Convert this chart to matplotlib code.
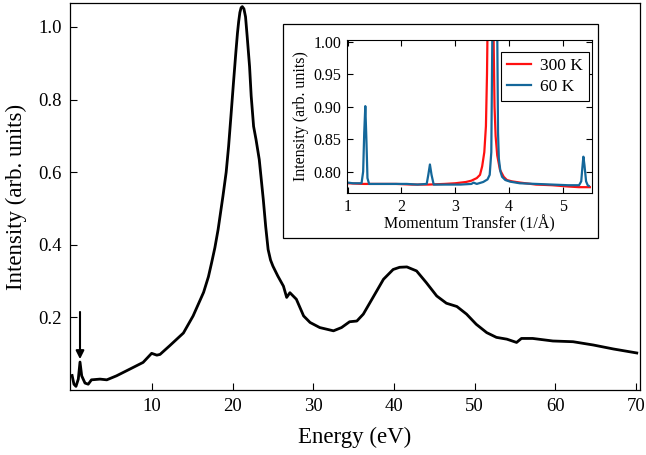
import matplotlib
matplotlib.use("Agg")
import matplotlib.pyplot as plt
from matplotlib.patches import Rectangle

plt.rcParams['font.family'] = ['Liberation Serif', 'DejaVu Serif']

# Main spectrum
energy = [0.1, 0.33, 0.58, 0.87, 1.08, 1.29, 1.7, 2.1, 2.5, 3.56, 4.4, 5.6, 7.3, 8.9,
          9.96, 10.6, 11.0, 12.2, 13.9, 15.1, 16.4, 17.0, 17.4, 17.8, 18.2, 18.8, 19.2,
          19.5, 19.8, 20.1, 20.4, 20.6, 20.75, 20.9, 21.05, 21.2, 21.4, 21.6, 21.8, 22.1,
          22.3, 22.6, 22.9, 23.3, 23.8, 24.1, 24.4, 24.7, 25.0, 25.6, 26.3, 26.7, 27.1,
          27.9, 28.8, 29.6, 30.8, 32.5, 33.5, 34.5, 35.4, 36.2, 37.4, 38.7, 39.9, 40.7,
          41.6, 42.8, 44.0, 45.3, 46.5, 47.8, 49.0, 50.2, 51.5, 52.7, 54.0, 55.2, 55.8,
          57.2, 59.7, 62.2, 64.7, 67.2, 70.1]
intensity = [0.040, 0.016, 0.010, 0.030, 0.077, 0.039, 0.019, 0.016, 0.028, 0.030, 0.028,
             0.039, 0.058, 0.076, 0.101, 0.096, 0.098, 0.122, 0.157, 0.204, 0.269, 0.312,
             0.351, 0.392, 0.442, 0.534, 0.600, 0.671, 0.757, 0.845, 0.930, 0.983, 1.015,
             1.040, 1.053, 1.056, 1.050, 1.028, 0.975, 0.891, 0.810, 0.726, 0.690, 0.635,
             0.525, 0.450, 0.387, 0.358, 0.341, 0.314, 0.286, 0.255, 0.268, 0.250, 0.204,
             0.186, 0.172, 0.163, 0.172, 0.188, 0.190, 0.209, 0.255, 0.305, 0.332, 0.338,
             0.339, 0.328, 0.296, 0.259, 0.239, 0.230, 0.209, 0.181, 0.158, 0.145, 0.140,
             0.131, 0.142, 0.142, 0.135, 0.133, 0.124, 0.113, 0.102]
arrow_energy = 1.08
arrow_from, arrow_to = 0.215, 0.085

main_xticks = [10, 20, 30, 40, 50, 60, 70]
main_yticks = [0.2, 0.4, 0.6, 0.8, 1.0]

# Inset diffraction
q_300 = [1.01, 1.30, 1.60, 1.90, 2.20, 2.50, 2.80, 3.00, 3.20, 3.30, 3.40, 3.46, 3.50, 3.54,
         3.57, 3.59, 3.60, 3.655, 3.71, 3.73, 3.75, 3.78, 3.83, 3.90, 3.96, 4.05, 4.21, 4.50,
         4.80, 5.10, 5.30, 5.50]
i_300 = [0.782, 0.781, 0.781, 0.781, 0.780, 0.780, 0.781, 0.782, 0.784, 0.786, 0.790, 0.795,
         0.808, 0.830, 0.870, 0.950, 1.020, 1.150, 1.020, 0.900, 0.855, 0.825, 0.803, 0.792,
         0.787, 0.785, 0.783, 0.780, 0.779, 0.777, 0.776, 0.776]
q_60 = [1.01, 1.10, 1.20, 1.26, 1.29, 1.31, 1.33, 1.35, 1.37, 1.40, 1.50, 1.70, 1.90, 2.10,
        2.30, 2.47, 2.50, 2.53, 2.56, 2.60, 2.70, 2.90, 3.10, 3.30, 3.34, 3.40, 3.52, 3.60,
        3.64, 3.67, 3.69, 3.735, 3.78, 3.795, 3.81, 3.84, 3.87, 3.93, 4.02, 4.20, 4.50, 4.80,
        5.10, 5.30, 5.34, 5.36, 5.38, 5.40, 5.43, 5.46, 5.48]
i_60 = [0.783, 0.782, 0.782, 0.782, 0.800, 0.860, 0.901, 0.850, 0.790, 0.781, 0.781, 0.781,
        0.781, 0.781, 0.780, 0.781, 0.795, 0.811, 0.795, 0.780, 0.780, 0.780, 0.780, 0.781,
        0.783, 0.781, 0.784, 0.788, 0.795, 0.830, 1.020, 1.100, 1.020, 0.860, 0.820, 0.800,
        0.792, 0.787, 0.7845, 0.782, 0.781, 0.780, 0.779, 0.779, 0.785, 0.805, 0.823, 0.810,
        0.785, 0.779, 0.778]
inset_xticks = [1, 2, 3, 4, 5]
inset_yticks = [0.80, 0.85, 0.90, 0.95, 1.00]
labels = ['300 K', '60 K']
colors = ['#ff1010', '#14679a']

fig = plt.figure(figsize=(6.46, 4.55), dpi=100)
ax = fig.add_axes([70/646, 1-390/455, 570/646, 387/455])
ax.plot(energy, intensity, color='black', lw=2.0, zorder=3, solid_joinstyle='round')
ax.annotate('', xy=(arrow_energy, arrow_to), xytext=(arrow_energy, arrow_from),
            arrowprops=dict(arrowstyle='-|>', color='black', lw=1.5, mutation_scale=12,
                            shrinkA=0, shrinkB=0))
ax.set_xlim(-0.16, 70.5)
ax.set_ylim(0, 1.066)
ax.set_xticks(main_xticks)
ax.set_yticks(main_yticks)
ax.set_yticklabels([f'{v:.1f}' for v in main_yticks])
ax.tick_params(direction='in', length=5, width=0.8, labelsize=13.5, pad=6,
               top=False, right=False)
ax.set_xlabel('Energy (eV)', fontsize=16.5, labelpad=8)
ax.set_ylabel('Intensity (arb. units)', fontsize=16.5, labelpad=8)
for s in ax.spines.values():
    s.set_linewidth(0.9)

# Inset frame
fig.patches.append(Rectangle((283/646, 1-238/455), (598-283)/646, (238-24)/455,
                             transform=fig.transFigure, facecolor='white',
                             edgecolor='black', lw=0.9, zorder=1))

axi = fig.add_axes([347/646, 1-193/455, 245/646, 153/455], zorder=2)
axi.plot(q_300, i_300, color=colors[0], lw=1.6, label=labels[0])
axi.plot(q_60, i_60, color=colors[1], lw=1.6, label=labels[1])
axi.set_xlim(0.99, 5.54)
axi.set_ylim(0.767, 1.003)
axi.set_xticks(inset_xticks)
axi.set_yticks(inset_yticks)
axi.set_yticklabels([f'{v:.2f}' for v in inset_yticks])
axi.tick_params(direction='in', length=4, width=0.8, labelsize=11.5, pad=4,
                top=True, right=True)
axi.set_xlabel('Momentum Transfer (1/Å)', fontsize=11.5, labelpad=0)
axi.set_ylabel('Intensity (arb. units)', fontsize=11.5, labelpad=3)
for s in axi.spines.values():
    s.set_linewidth(0.8)
leg = axi.legend(loc='upper right', bbox_to_anchor=(0.988, 0.922), fontsize=12.5,
                 frameon=True, fancybox=False, edgecolor='black', framealpha=1,
                 handlelength=1.4, borderpad=0.35, labelspacing=0.25, handletextpad=0.5,
                 borderaxespad=0)
leg.get_frame().set_linewidth(0.8)

fig.savefig('out.png', dpi=100)
